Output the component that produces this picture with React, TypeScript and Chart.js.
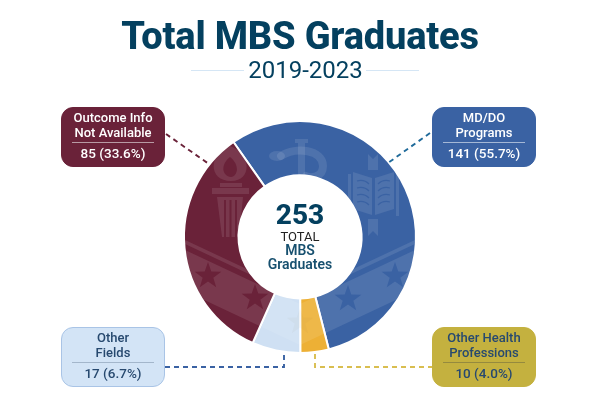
import React, { useEffect, useRef } from "react";
import { Chart, registerables } from "chart.js";

Chart.register(...registerables);

const categories = ["MD/DO Programs", "Other Health Professions", "Other Fields", "Outcome Info Not Available"];
const values = [141, 10, 17, 85];
const percents = ["55.7", "4.0", "6.7", "33.6"];
const sliceColors = ["#3A62A3", "#EDB035", "#CFE0F3", "#6A2239"];
const totalValue = 253;
const titleText = "Total MBS Graduates";
const subtitleText = "2019-2023";

const FONT = "Roboto, 'Noto Sans', sans-serif";
const NAVY = "#04405F";

const star = (c: CanvasRenderingContext2D, x: number, y: number, r: number) => {
  c.beginPath();
  for (let i = 0; i < 10; i++) {
    const a = -Math.PI / 2 + (i * Math.PI) / 5;
    const q = i % 2 ? r * 0.4 : r;
    c.lineTo(x + q * Math.cos(a), y + q * Math.sin(a));
  }
  c.closePath();
  c.fill();
};

const poly = (c: CanvasRenderingContext2D, pts: number[][]) => {
  c.beginPath();
  pts.forEach((p) => c.lineTo(p[0], p[1]));
  c.closePath();
  c.fill();
};

const chevron = (c: CanvasRenderingContext2D, cx: number, top: number, bottom: number) => {
  const s = 0.47;
  const w = 130;
  poly(c, [
    [cx - w, top - s * w],
    [cx, top],
    [cx + w, top - s * w],
    [cx + w, bottom - s * w],
    [cx, bottom],
    [cx - w, bottom - s * w],
  ]);
};

const watermark = {
  id: "watermark",
  afterDatasetsDraw(chart: any) {
    const arc = chart.getDatasetMeta(0).data[0];
    if (!arc) return;
    const c: CanvasRenderingContext2D = chart.ctx;
    const { x: cx, y: cy, innerRadius, outerRadius } = arc;
    const ox = cx - 300;
    const oy = cy - 237;
    c.save();
    c.beginPath();
    c.arc(cx, cy, outerRadius, 0, Math.PI * 2);
    c.arc(cx, cy, innerRadius, 0, Math.PI * 2, true);
    c.clip("evenodd");
    c.translate(ox, oy);

    const soft = "rgba(255,255,255,0.10)";
    c.fillStyle = soft;
    chevron(c, 300, 294, 298);
    chevron(c, 300, 304, 345);

    // stars
    c.fillStyle = sliceColors[3];
    star(c, 208, 276, 14);
    star(c, 255, 298, 14);
    c.fillStyle = sliceColors[0];
    star(c, 395, 276, 14);
    star(c, 348, 299, 14);
    c.fillStyle = "rgba(120,90,40,0.04)";
    star(c, 300, 322, 14);

    // torch
    c.fillStyle = soft;
    c.beginPath();
    c.moveTo(230, 146);
    c.bezierCurveTo(252, 154, 252, 181, 231, 181);
    c.bezierCurveTo(208, 181, 208, 154, 230, 146);
    c.fill();
    c.fillStyle = sliceColors[3];
    c.beginPath();
    c.moveTo(230, 157);
    c.bezierCurveTo(240, 165, 238, 176, 231, 177);
    c.bezierCurveTo(222, 176, 220, 165, 230, 157);
    c.fill();
    c.fillStyle = soft;
    c.fillRect(220, 183, 22, 4);
    c.fillRect(212, 188, 37, 6);
    poly(c, [[217, 197], [243, 197], [239, 237], [222, 237]]);
    c.fillStyle = sliceColors[3];
    c.fillRect(224, 200, 2, 37);
    c.fillRect(229.5, 200, 2, 37);
    c.fillRect(235, 200, 2, 37);

    // book
    c.fillStyle = soft;
    c.fillRect(348, 174, 3, 42);
    c.fillRect(396, 174, 3, 42);
    poly(c, [[353, 172], [372, 178], [372, 215], [353, 209]]);
    poly(c, [[394, 172], [375, 178], [375, 215], [394, 209]]);
    poly(c, [[368, 154], [373, 159], [378, 154], [378, 170], [368, 170]]);
    poly(c, [[368, 219], [378, 219], [378, 236], [373, 231], [368, 236]]);
    c.strokeStyle = sliceColors[0];
    c.lineWidth = 1.2;
    [181, 188, 195, 202].forEach((y) => {
      c.beginPath();
      c.moveTo(357, y);
      c.quadraticCurveTo(364, y - 2, 369, y + 3);
      c.moveTo(390, y);
      c.quadraticCurveTo(383, y - 2, 378, y + 3);
      c.stroke();
    });

    // staff and serpent
    c.fillStyle = soft;
    c.fillRect(295, 139, 13, 4);
    c.fillRect(298, 143, 7, 42);
    c.strokeStyle = soft;
    c.lineWidth = 8;
    c.lineCap = "round";
    c.beginPath();
    c.moveTo(281, 156);
    c.bezierCurveTo(296, 146, 323, 150, 323, 166);
    c.bezierCurveTo(323, 178, 310, 178, 306, 176);
    c.stroke();
    c.beginPath();
    c.ellipse(277, 156, 8, 5, 0, 0, Math.PI * 2);
    c.fillStyle = soft;
    c.fill();
    c.restore();

    // connectors
    c.save();
    c.lineWidth = 1.9;
    c.setLineDash([5, 4]);
    const paths: [string, number[][]][] = [
      ["#6A2239", [[166, 134], [209, 164]]],
      ["#1F6A9A", [[430, 133], [388, 163]]],
      ["#3A62A3", [[165, 367], [284, 367], [284, 352]]],
      ["#D9BE50", [[315, 354], [315, 367], [432, 367]]],
    ];
    paths.forEach(([col, pts]) => {
      c.strokeStyle = col;
      c.beginPath();
      pts.forEach((p) => c.lineTo(p[0], p[1]));
      c.stroke();
    });
    c.restore();
  },
};

type Box = { idx: number; lines: string[]; left: number; top: number; bg: string; fg: string; rule: string; border: string };
const boxes: Box[] = [
  { idx: 3, lines: ["Outcome Info", "Not Available"], left: 61, top: 107, bg: "#6A2239", fg: "#FFFFFF", rule: "#B89AA4", border: "#6A2239" },
  { idx: 0, lines: ["MD/DO", "Programs"], left: 432, top: 107, bg: "#3A62A3", fg: "#FFFFFF", rule: "#A5B8D6", border: "#3A62A3" },
  { idx: 2, lines: ["Other", "Fields"], left: 61, top: 327, bg: "#D3E4F6", fg: "#27496F", rule: "#A3B6CB", border: "#A9C4E6" },
  { idx: 1, lines: ["Other Health", "Professions"], left: 432, top: 327, bg: "#C4B13F", fg: "#27496F", rule: "#958A3E", border: "#C4B13F" },
];

const abs = (o: React.CSSProperties): React.CSSProperties => ({ position: "absolute", whiteSpace: "nowrap", ...o });

export default function App() {
  const ref = useRef<HTMLCanvasElement>(null);
  useEffect(() => {
    const chart = new Chart(ref.current as HTMLCanvasElement, {
      type: "doughnut",
      data: {
        labels: categories,
        datasets: [
          {
            data: values,
            backgroundColor: sliceColors,
            borderColor: "#FFFFFF",
            borderWidth: 2,
            hoverOffset: 0,
          },
        ],
      },
      options: {
        animation: false,
        responsive: false,
        rotation: -35,
        cutout: "53%",
        layout: { padding: { left: 183, right: 181, top: 120, bottom: 61 } },
        plugins: { legend: { display: false }, tooltip: { enabled: false } },
      },
      plugins: [watermark],
    } as any);
    return () => chart.destroy();
  }, []);

  return (
    <div style={{ position: "fixed", left: 0, top: 0, width: 598, height: 415, background: "#fff", fontFamily: FONT, overflow: "hidden" }}>
      <canvas ref={ref} width={598} height={415} style={{ position: "absolute", left: 0, top: 0, width: 598, height: 415 }} />
      <div style={abs({ left: 0, width: 600, top: 13, textAlign: "center", fontSize: 38, lineHeight: "46px", fontWeight: 800, letterSpacing: -0.2, color: NAVY })}>{titleText}</div>
      <div style={abs({ left: 0, width: 611, top: 56, textAlign: "center", fontSize: 24, lineHeight: "28px", fontWeight: 400, color: NAVY })}>{subtitleText}</div>
      <div style={abs({ left: 191, top: 70, width: 53, height: 1, background: "#D5E6F5" })} />
      <div style={abs({ left: 366, top: 70, width: 53, height: 1, background: "#D5E6F5" })} />

      <div style={abs({ left: 240, width: 120, top: 197, textAlign: "center", fontSize: 28, lineHeight: "36px", fontWeight: 800, color: NAVY })}>{totalValue}</div>
      <div style={abs({ left: 240, width: 120, top: 229, textAlign: "center", fontSize: 13, lineHeight: "15px", color: "#222" })}>TOTAL</div>
      <div style={abs({ left: 240, width: 120, top: 243, textAlign: "center", fontSize: 14, lineHeight: "15px", fontWeight: 600, color: "#17506F" })}>MBS</div>
      <div style={abs({ left: 240, width: 120, top: 257, textAlign: "center", fontSize: 14, lineHeight: "15px", fontWeight: 600, color: "#17506F" })}>Graduates</div>

      {boxes.map((b) => (
        <div key={b.idx} style={abs({ left: b.left, top: b.top, width: 104, height: 60, boxSizing: "border-box", background: b.bg, border: `1px solid ${b.border}`, borderRadius: 12, color: b.fg, textAlign: "center", fontSize: 13, fontWeight: 500 })}>
          <div style={abs({ left: 0, right: 0, top: 3, lineHeight: "14.5px" })}>
            {b.lines.map((l) => (
              <div key={l}>{l}</div>
            ))}
          </div>
          <div style={abs({ left: 10, right: 10, top: 34, height: 1, background: b.rule })} />
          <div style={abs({ left: 0, right: 0, top: 37, lineHeight: "16px", fontSize: 13.5 })}>{`${values[b.idx]} (${percents[b.idx]}%)`}</div>
        </div>
      ))}
    </div>
  );
}
